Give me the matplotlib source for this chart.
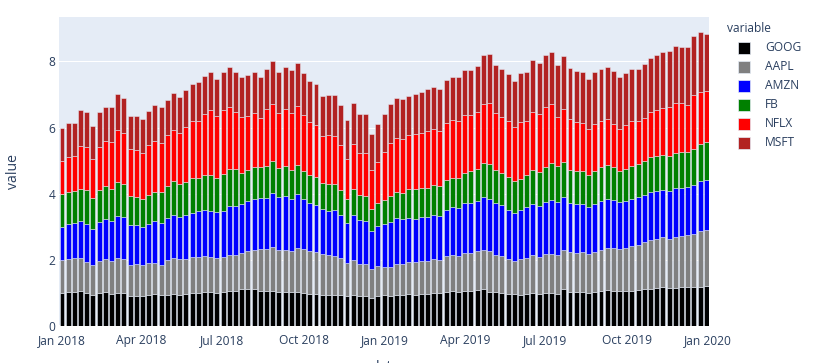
import matplotlib
matplotlib.use("Agg")
import matplotlib.pyplot as plt
import matplotlib.dates as mdates
from matplotlib.patches import Rectangle
import pandas as pd
import numpy as np

plt.rcParams['font.family'] = ['Open Sans', 'DejaVu Sans']

dates = pd.date_range('2018-01-01', periods=105, freq='7D')

GOOG = [1.0, 1.019, 1.032, 1.066, 1.009, 0.942, 0.994, 1.023,
        0.959, 1.009, 0.999, 0.908, 0.908, 0.908, 0.928, 0.959, 0.938, 0.949, 0.979, 0.938,
        0.959, 0.989, 0.989, 1.019, 1.019, 0.989, 1.019, 1.049, 1.049, 1.110,
        1.110, 1.110, 1.070, 1.070, 1.070, 1.029, 1.039, 1.029, 1.039, 1.009,
        0.979, 0.969, 0.949, 0.928, 0.928, 0.928, 0.898, 0.949, 0.908, 0.908,
        0.858, 0.898, 0.938, 0.918, 0.949, 0.949, 0.979, 0.949, 0.979, 0.979,
        0.999, 1.009, 1.039, 1.060, 1.029, 1.060, 1.070, 1.090, 1.120, 1.039,
        1.019, 1.009, 0.979, 0.959, 0.938, 0.959, 0.989, 0.959, 0.989, 0.999,
        0.979, 1.110, 1.039, 1.039, 1.039, 1.009, 1.039, 1.060, 1.090, 1.070,
        1.070, 1.049, 1.070, 1.100, 1.110, 1.130, 1.160, 1.181, 1.140, 1.150,
        1.181, 1.181, 1.181, 1.181, 1.216]

AAPL = [1.0, 1.012, 1.020, 0.980, 0.917, 0.887, 0.969, 1.008,
        1.009, 1.049, 1.039, 0.938, 0.959, 0.938, 0.979, 0.949, 0.898, 1.049, 1.080, 1.100,
        1.080, 1.090, 1.100, 1.090, 1.070, 1.070, 1.070, 1.100, 1.100, 1.100,
        1.171, 1.191, 1.251, 1.271, 1.322, 1.282, 1.271, 1.251, 1.312, 1.312,
        1.292, 1.261, 1.231, 1.211, 1.191, 1.130, 1.009, 1.049, 0.969, 0.969,
        0.878, 0.918, 0.858, 0.878, 0.918, 0.918, 0.969, 0.999, 0.999, 0.999,
        1.019, 0.989, 1.070, 1.100, 1.100, 1.140, 1.150, 1.181, 1.181, 1.221,
        1.140, 1.110, 1.049, 1.019, 1.090, 1.110, 1.150, 1.140, 1.181, 1.171,
        1.181, 1.191, 1.191, 1.171, 1.191, 1.160, 1.211, 1.231, 1.261, 1.282,
        1.271, 1.322, 1.352, 1.352, 1.423, 1.463, 1.483, 1.524, 1.504, 1.534,
        1.554, 1.574, 1.615, 1.685, 1.686]

AMZN = [1.0, 1.062, 1.053, 1.141, 1.164, 1.090, 1.175, 1.209,
        1.211, 1.282, 1.271, 1.221, 1.181, 1.140, 1.181, 1.261, 1.292, 1.261, 1.302, 1.271,
        1.312, 1.352, 1.382, 1.393, 1.393, 1.382, 1.393, 1.473, 1.473, 1.483,
        1.493, 1.524, 1.544, 1.534, 1.635, 1.584, 1.625, 1.554, 1.645, 1.524,
        1.453, 1.433, 1.362, 1.342, 1.382, 1.292, 1.211, 1.372, 1.332, 1.292,
        1.130, 1.201, 1.282, 1.342, 1.393, 1.362, 1.312, 1.292, 1.302, 1.322,
        1.352, 1.322, 1.403, 1.433, 1.443, 1.504, 1.504, 1.504, 1.594, 1.594,
        1.554, 1.524, 1.483, 1.453, 1.473, 1.524, 1.564, 1.534, 1.584, 1.635,
        1.594, 1.584, 1.483, 1.473, 1.453, 1.423, 1.453, 1.483, 1.493, 1.463,
        1.403, 1.413, 1.413, 1.443, 1.433, 1.463, 1.453, 1.413, 1.433, 1.473,
        1.423, 1.443, 1.463, 1.514, 1.519]

FB = [1.0, 0.960, 0.971, 0.960, 1.019, 0.942, 0.971, 0.981,
      0.949, 0.999, 0.989, 0.858, 0.858, 0.858, 0.878, 0.868, 0.918, 0.979, 1.019, 0.969,
      0.989, 1.039, 1.009, 1.070, 1.090, 1.039, 1.100, 1.120, 1.130, 0.928,
      0.949, 0.979, 0.928, 0.949, 0.949, 0.888, 0.888, 0.888, 0.868, 0.848,
      0.827, 0.827, 0.777, 0.817, 0.787, 0.747, 0.716, 0.757, 0.747, 0.767,
      0.666, 0.716, 0.737, 0.798, 0.797, 0.797, 0.888, 0.898, 0.878, 0.868,
      0.878, 0.908, 0.888, 0.888, 0.898, 0.928, 0.949, 0.969, 1.029, 1.049,
      0.999, 0.979, 0.989, 0.949, 0.928, 0.969, 0.999, 1.029, 1.060, 1.110,
      1.070, 1.070, 1.009, 0.989, 0.989, 0.969, 0.989, 1.019, 1.019, 0.999,
      0.949, 0.969, 0.999, 0.999, 1.009, 1.049, 1.039, 1.049, 1.070, 1.080,
      1.090, 1.049, 1.100, 1.110, 1.136]

NFLX = [1.0, 1.054, 1.049, 1.308, 1.310, 1.182, 1.308, 1.360,
        1.443, 1.584, 1.534, 1.433, 1.423, 1.393, 1.493, 1.564, 1.493, 1.524, 1.544, 1.554,
        1.675, 1.715, 1.726, 1.847, 1.968, 1.867, 1.958, 1.877, 1.726, 1.705,
        1.635, 1.645, 1.504, 1.726, 1.746, 1.665, 1.726, 1.726, 1.796, 1.685,
        1.615, 1.584, 1.433, 1.473, 1.453, 1.372, 1.221, 1.372, 1.261, 1.282,
        1.171, 1.221, 1.433, 1.594, 1.625, 1.625, 1.625, 1.665, 1.685, 1.736,
        1.715, 1.675, 1.736, 1.736, 1.715, 1.746, 1.695, 1.726, 1.796, 1.847,
        1.726, 1.695, 1.685, 1.645, 1.736, 1.635, 1.776, 1.756, 1.816, 1.786,
        1.504, 1.605, 1.534, 1.493, 1.453, 1.403, 1.413, 1.393, 1.393, 1.292,
        1.261, 1.312, 1.352, 1.312, 1.312, 1.352, 1.403, 1.423, 1.473, 1.504,
        1.483, 1.433, 1.615, 1.584, 1.539]

MSFT = [1.0, 1.016, 1.021, 1.067, 1.041, 0.989, 1.044, 1.052,
        1.049, 1.100, 1.060, 0.989, 1.019, 1.009, 1.049, 1.080, 1.080, 1.070, 1.110, 1.090,
        1.120, 1.140, 1.160, 1.150, 1.130, 1.120, 1.140, 1.211, 1.211, 1.211,
        1.231, 1.241, 1.231, 1.221, 1.292, 1.221, 1.292, 1.302, 1.302, 1.271,
        1.241, 1.241, 1.211, 1.211, 1.241, 1.221, 1.181, 1.251, 1.191, 1.201,
        1.110, 1.140, 1.160, 1.171, 1.221, 1.221, 1.181, 1.201, 1.241, 1.261,
        1.261, 1.261, 1.302, 1.322, 1.332, 1.362, 1.362, 1.393, 1.473, 1.463,
        1.443, 1.453, 1.433, 1.393, 1.483, 1.493, 1.554, 1.524, 1.554, 1.574,
        1.564, 1.605, 1.544, 1.554, 1.554, 1.504, 1.564, 1.574, 1.564, 1.594,
        1.564, 1.574, 1.584, 1.564, 1.625, 1.645, 1.655, 1.695, 1.705, 1.726,
        1.705, 1.746, 1.796, 1.806, 1.721]

series_names = ['GOOG', 'AAPL', 'AMZN', 'FB', 'NFLX', 'MSFT']
series_values = [GOOG, AAPL, AMZN, FB, NFLX, MSFT]
colors = ['#000000', '#808080', '#0000ff', '#008000', '#ff0000', '#b22222']

W, H = 815, 363
fig = plt.figure(figsize=(W / 100, H / 100), dpi=100)
fig.patch.set_facecolor('white')

ax_l, ax_r, ax_t, ax_b = 58.9, 709.4, 16.7, 326.0
ax = fig.add_axes([ax_l / W, 1 - ax_b / H, (ax_r - ax_l) / W, (ax_b - ax_t) / H])
ax.set_facecolor('#E5ECF6')

text_color = '#2a3f5f'
fs = 12 * 72 / 100

bottom = np.zeros(len(dates))
for name, vals, c in zip(series_names, series_values, colors):
    v = np.array(vals)
    ax.bar(dates, v, width=5.6, bottom=bottom, color=c, edgecolor='#E5ECF6',
           linewidth=0.5 * 72 / 100, zorder=3, label=name)
    bottom = bottom + v

ax.set_xlim(pd.Timestamp('2017-12-28 12:00'), pd.Timestamp('2020-01-02 12:00'))
ax.set_ylim(0, 9.35)
ax.set_yticks([0, 2, 4, 6, 8])
ax.yaxis.grid(True, color='white', linewidth=0.72, zorder=1)
ax.axhline(0, color='white', linewidth=1.44, zorder=2)
ax.set_axisbelow(True)

ticks = pd.to_datetime(['2018-01-01', '2018-04-01', '2018-07-01', '2018-10-01',
                        '2019-01-01', '2019-04-01', '2019-07-01', '2019-10-01', '2020-01-01'])
ax.set_xticks(ticks)
ax.xaxis.set_major_formatter(mdates.DateFormatter('%b %Y'))

for s in ax.spines.values():
    s.set_visible(False)
ax.tick_params(axis='both', length=0, labelsize=fs, labelcolor=text_color)
ax.tick_params(axis='x', pad=5.5)
ax.tick_params(axis='y', pad=2.5)

ax.set_xlabel('date', fontsize=14 * 72 / 100, color=text_color)
ax.xaxis.set_label_coords((385 - ax_l) / (ax_r - ax_l), (ax_b - 360) / (ax_b - ax_t))
ax.set_ylabel('value', fontsize=14 * 72 / 100, color=text_color)
ax.yaxis.set_label_coords((21 - ax_l) / (ax_r - ax_l), 0.5)

# legend
fig.text(727 / W, 1 - 29 / H, 'variable', fontsize=fs, color=text_color,
         ha='left', va='center')
for i, (name, c) in enumerate(zip(series_names, colors)):
    yc = 47.5 + i * 19
    fig.patches.append(Rectangle((738 / W, 1 - (yc + 6) / H), 12 / W, 12 / H,
                                 transform=fig.transFigure, facecolor=c,
                                 edgecolor='#E5ECF6', linewidth=0.5))
    fig.text(765 / W, 1 - yc / H, name, fontsize=fs, color=text_color,
             ha='left', va='center')

fig.savefig('out.png', dpi=100)
